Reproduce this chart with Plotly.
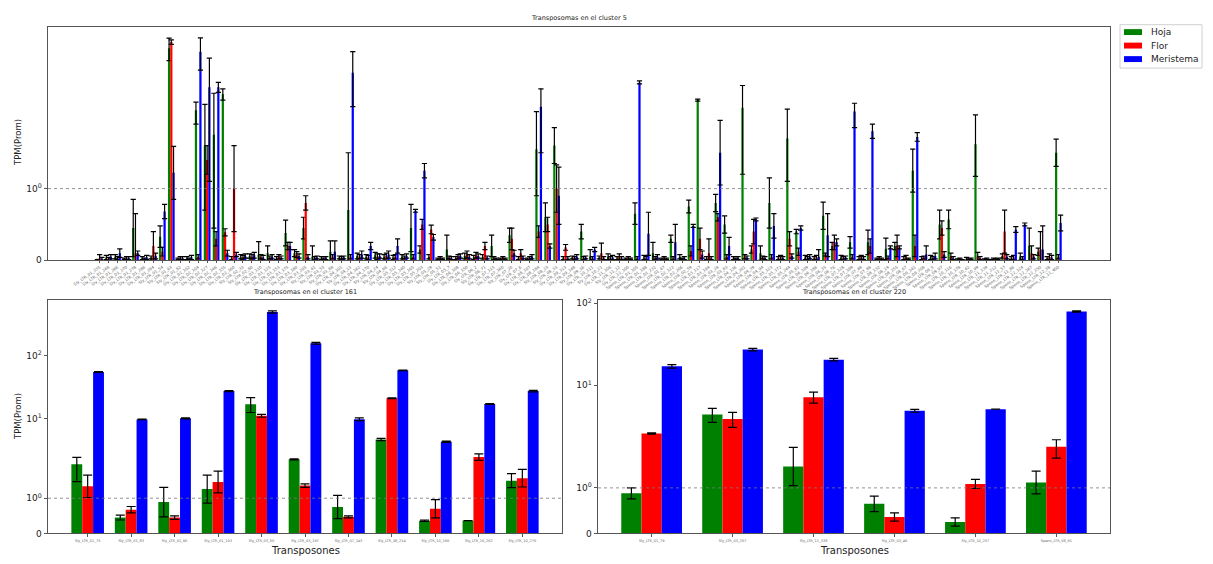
import math
import plotly.graph_objects as go

SERIES = ["Hoja", "Flor", "Meristema"]
COLORS = ["green", "red", "blue"]

# ---------------- cluster 5 ----------------
c5_labels = [
    "Sly_LTR_01_235","Sly_LTR_01_248","Sly_LTR_01_266","Sly_LTR_01_270","Sly_LTR_01_278","Sly_LTR_01_286","Sly_LTR_01_294","Sly_LTR_01_54","Sly_LTR_01_63","Sly_LTR_01_82",
    "Sly_LTR_02_102","Sly_LTR_02_104","Sly_LTR_02_127","Sly_LTR_02_146","Sly_LTR_02_155","Sly_LTR_02_160","Sly_LTR_02_33","Sly_LTR_02_80","Sly_LTR_03_110","Sly_LTR_03_125",
    "Sly_LTR_03_153","Sly_LTR_03_175","Sly_LTR_03_180","Sly_LTR_03_205","Sly_LTR_03_41","Sly_LTR_03_55","Sly_LTR_03_88","Sly_LTR_04_101","Sly_LTR_04_13","Sly_LTR_04_162",
    "Sly_LTR_04_170","Sly_LTR_04_24","Sly_LTR_04_66","Sly_LTR_05_112","Sly_LTR_05_140","Sly_LTR_05_165","Sly_LTR_05_203","Sly_LTR_05_29","Sly_LTR_05_51","Sly_LTR_05_7",
    "Sly_LTR_06_108","Sly_LTR_06_150","Sly_LTR_06_2","Sly_LTR_06_71","Sly_LTR_07_115","Sly_LTR_07_160","Sly_LTR_07_20","Sly_LTR_07_6","Sly_LTR_08_107","Sly_LTR_08_184",
    "Sly_LTR_08_25","Sly_LTR_08_33","Sly_LTR_09_113","Sly_LTR_09_148","Sly_LTR_09_16","Sly_LTR_10_111","Sly_LTR_10_21","Sly_LTR_11_106","Sly_LTR_11_12","Sly_LTR_12_100",
    "Spenn_LTR_01_105","Spenn_LTR_01_188","Spenn_LTR_01_231","Spenn_LTR_01_47","Spenn_LTR_02_122","Spenn_LTR_02_206","Spenn_LTR_02_59","Spenn_LTR_03_117","Spenn_LTR_03_194","Spenn_LTR_03_28",
    "Spenn_LTR_03_83","Spenn_LTR_04_136","Spenn_LTR_04_201","Spenn_LTR_04_39","Spenn_LTR_04_94","Spenn_LTR_05_123","Spenn_LTR_05_172","Spenn_LTR_05_244","Spenn_LTR_05_61","Spenn_LTR_06_109",
    "Spenn_LTR_06_186","Spenn_LTR_06_35","Spenn_LTR_06_76","Spenn_LTR_07_128","Spenn_LTR_07_199","Spenn_LTR_07_48","Spenn_LTR_07_88","Spenn_LTR_08_132","Spenn_LTR_08_19","Spenn_LTR_08_255",
    "Spenn_LTR_08_67","Spenn_LTR_09_141","Spenn_LTR_09_208","Spenn_LTR_09_5","Spenn_LTR_09_97","Spenn_LTR_10_116","Spenn_LTR_10_178","Spenn_LTR_10_42","Spenn_LTR_10_99","Spenn_LTR_11_139",
    "Spenn_LTR_11_212","Spenn_LTR_11_57","Spenn_LTR_11_86","Spenn_LTR_12_124","Spenn_LTR_12_167","Spenn_LTR_12_250","Spenn_LTR_12_38","Spenn_LTR_12_400",
]
c5_hoja = [
    0.01,0.04,0.05,0.02,0.45,0.03,0.04,0.33,6.80,0.02,
    0.03,2.25,1.60,1.75,3.00,0.03,0.05,0.06,0.08,0.10,
    0.03,0.38,0.10,0.45,0.05,0.03,0.12,0.04,0.70,0.06,
    0.05,0.07,0.05,0.04,0.05,0.45,0.15,0.05,0.02,0.15,
    0.03,0.06,0.04,0.05,0.20,0.02,0.35,0.03,0.02,1.55,
    0.60,1.60,0.03,0.04,0.40,0.05,0.04,0.05,0.03,0.02,
    0.65,0.04,0.10,0.02,0.30,0.05,0.75,2.70,0.03,0.80,
    0.50,0.03,2.35,0.15,0.10,0.80,0.03,1.70,0.40,0.04,
    0.03,0.62,0.20,0.04,0.25,0.03,0.25,0.02,0.16,0.20,
    0.03,1.25,0.03,0.04,0.50,0.57,0.01,0.02,1.62,0.01,
    0.02,0.06,0.03,0.05,0.20,0.12,0.03,1.50,
]
c5_hoja_err = [
    0.00,0.03,0.03,0.01,0.40,0.02,0.02,0.15,1.35,0.01,
    0.02,0.35,0.90,1.30,0.30,0.02,0.03,0.03,0.18,0.10,
    0.02,0.18,0.05,0.15,0.15,0.02,0.15,0.02,0.80,0.04,
    0.03,0.04,0.03,0.03,0.03,0.33,0.05,0.03,0.01,0.20,
    0.02,0.04,0.03,0.03,0.15,0.01,0.10,0.02,0.01,0.65,
    0.20,0.25,0.02,0.02,0.10,0.10,0.02,0.04,0.02,0.01,
    0.15,0.03,0.15,0.01,0.05,0.03,0.09,0.05,0.02,0.12,
    0.12,0.02,1.15,0.05,0.10,0.35,0.02,0.60,0.03,0.03,
    0.02,0.19,0.05,0.03,0.08,0.02,0.17,0.01,0.15,0.05,
    0.02,0.30,0.02,0.03,0.20,0.13,0.01,0.02,0.45,0.01,
    0.01,0.03,0.02,0.05,0.25,0.05,0.02,0.19,
]
c5_flor = [
    0.03,0.02,0.03,0.03,0.10,0.02,0.20,0.12,7.60,0.03,
    0.02,0.05,1.40,0.30,0.39,1.00,0.04,0.05,0.05,0.04,
    0.05,0.20,0.08,0.80,0.03,0.02,0.05,0.03,0.05,0.05,
    0.04,0.05,0.06,0.05,0.04,0.05,0.50,0.43,0.03,0.04,
    0.05,0.08,0.07,0.20,0.03,0.03,0.30,0.10,0.03,0.40,
    0.50,1.00,0.18,0.03,0.03,0.03,0.10,0.03,0.05,0.03,
    0.03,0.03,0.03,0.03,0.03,0.02,0.13,0.30,0.10,0.60,
    0.05,0.02,0.05,0.40,0.04,0.05,0.04,0.30,0.12,0.03,
    0.04,0.08,0.25,0.03,0.05,0.04,0.20,0.03,0.04,0.20,
    0.04,0.20,0.04,0.03,0.45,0.05,0.02,0.01,0.05,0.02,
    0.01,0.40,0.04,0.03,0.10,0.15,0.05,0.05,
]
c5_flor_err = [
    0.05,0.02,0.02,0.02,0.55,0.01,0.20,0.06,0.30,0.02,
    0.01,0.03,0.20,0.10,0.05,0.60,0.03,0.03,0.03,0.02,
    0.03,0.05,0.04,0.10,0.02,0.01,0.03,0.02,0.03,0.03,
    0.03,0.04,0.04,0.03,0.02,0.03,0.07,0.06,0.02,0.02,
    0.03,0.05,0.04,0.05,0.02,0.02,0.15,0.05,0.02,0.08,
    0.10,0.33,0.04,0.02,0.02,0.02,0.14,0.02,0.04,0.02,
    0.02,0.02,0.02,0.02,0.02,0.01,0.07,0.15,0.20,0.05,
    0.03,0.01,0.03,0.17,0.02,0.03,0.03,0.10,0.05,0.02,
    0.03,0.02,0.10,0.02,0.03,0.03,0.10,0.02,0.02,0.15,
    0.03,0.15,0.02,0.02,0.10,0.05,0.01,0.01,0.06,0.01,
    0.01,0.30,0.03,0.02,0.10,0.25,0.04,0.03,
]
c5_meri = [
    0.02,0.05,0.10,0.03,0.10,0.04,0.06,0.68,1.22,0.03,
    0.04,6.40,3.40,3.40,0.10,0.08,0.06,0.07,0.04,0.05,
    0.04,0.20,0.06,0.05,0.04,0.03,0.12,0.04,4.40,0.08,
    0.20,0.06,0.08,0.20,0.06,0.69,1.25,0.32,0.02,0.03,
    0.06,0.05,0.06,0.04,0.02,0.02,0.10,0.04,0.05,2.40,
    0.20,0.90,0.03,0.05,0.04,0.15,0.03,0.04,0.03,0.02,
    3.70,0.37,0.05,0.02,0.25,0.03,0.48,0.08,0.03,1.50,
    0.20,0.03,0.04,0.57,0.03,0.48,0.03,0.06,0.45,0.05,
    0.05,0.35,0.25,0.04,2.20,0.03,1.80,0.02,0.18,0.18,
    0.02,1.72,0.08,0.06,0.08,0.03,0.01,0.02,0.03,0.01,
    0.02,0.05,0.43,0.50,0.05,0.15,0.04,0.52,
]
c5_meri_err = [
    0.02,0.03,0.06,0.02,0.03,0.03,0.04,0.10,0.37,0.02,
    0.03,1.80,2.30,0.30,0.04,0.03,0.03,0.04,0.03,0.03,
    0.02,0.05,0.03,0.03,0.02,0.02,0.15,0.02,2.00,0.05,
    0.05,0.03,0.05,0.10,0.03,0.02,0.10,0.04,0.01,0.02,
    0.03,0.03,0.03,0.02,0.01,0.01,0.04,0.02,0.03,0.90,
    0.03,0.40,0.02,0.03,0.02,0.03,0.02,0.03,0.02,0.01,
    0.10,0.30,0.03,0.01,0.25,0.02,0.02,0.05,0.02,0.45,
    0.12,0.02,0.02,0.02,0.02,0.17,0.02,0.03,0.03,0.03,
    0.10,0.30,0.05,0.02,0.35,0.02,0.10,0.01,0.02,0.02,
    0.01,0.06,0.12,0.04,0.04,0.02,0.00,0.01,0.02,0.00,
    0.01,0.03,0.04,0.02,0.03,0.33,0.03,0.11,
]

# ---------------- cluster 161 ----------------
c161_labels = ["Sly_LTR_01_75","Sly_LTR_01_83","Sly_LTR_01_90","Sly_LTR_01_103","Sly_LTR_03_50",
               "Sly_LTR_03_197","Sly_LTR_07_143","Sly_LTR_08_214","Sly_LTR_10_166","Sly_LTR_10_262","Sly_LTR_10_276"]
c161_hoja = [1.97, 0.45, 0.89, 1.26, 17.1, 2.29, 0.75, 4.72, 0.36, 0.36, 1.50]
c161_hoja_err = [0.50, 0.07, 0.42, 0.40, 4.5, 0.05, 0.33, 0.20, 0.02, 0.0, 0.20]
c161_flor = [1.34, 0.675, 0.45, 1.46, 11.2, 1.36, 0.47, 21.1, 0.70, 2.50, 1.57]
c161_flor_err = [0.32, 0.09, 0.05, 0.31, 0.6, 0.05, 0.03, 0.3, 0.26, 0.30, 0.25]
c161_meri = [55.2, 9.8, 10.2, 27.5, 490.0, 157.0, 9.9, 58.6, 4.35, 17.2, 27.5]
c161_meri_err = [0.8, 0.1, 0.2, 0.5, 20.0, 5.0, 0.5, 0.5, 0.1, 0.2, 0.8]

# ---------------- cluster 220 ----------------
c220_labels = ["Sly_LTR_01_79","Sly_LTR_03_207","Sly_LTR_11_338","Sly_LTR_03_46","Sly_LTR_10_257","Spenn_LTR_08_91"]
c220_hoja = [0.88, 4.37, 1.47, 0.65, 0.25, 1.12]
c220_hoja_err = [0.12, 0.85, 0.42, 0.17, 0.09, 0.25]
c220_flor = [2.57, 3.86, 7.13, 0.36, 1.087, 1.906]
c220_flor_err = [0.05, 0.8, 1.1, 0.09, 0.1, 0.25]
c220_meri = [17.0, 27.2, 20.5, 4.87, 5.1, 79.4]
c220_meri_err = [0.8, 1.0, 0.7, 0.2, 0.0, 1.5]

# symlog transform (matplotlib default: base 10, linthresh 2, linscale 1)
LT = 2.0
LA = 1.0 / (1.0 - 1.0 / 10.0)


def slog(v):
    s = 1.0 if v >= 0 else -1.0
    a = abs(v)
    if a <= LT:
        return s * a * LA
    return s * LT * (LA + math.log10(a / LT))


FONT = "DejaVu Sans"
W, H = 1213, 564

fig = go.Figure()

panels = [
    dict(labels=c5_labels, vals=[c5_hoja, c5_flor, c5_meri], errs=[c5_hoja_err, c5_flor_err, c5_meri_err],
         xa="x", ya="y", cap=2.6),
    dict(labels=c161_labels, vals=[c161_hoja, c161_flor, c161_meri], errs=[c161_hoja_err, c161_flor_err, c161_meri_err],
         xa="x2", ya="y2", cap=4.5),
    dict(labels=c220_labels, vals=[c220_hoja, c220_flor, c220_meri], errs=[c220_hoja_err, c220_flor_err, c220_meri_err],
         xa="x3", ya="y3", cap=4.5),
]

ymaxes = []
for p in panels:
    top = 0
    for name, col, vals, errs in zip(SERIES, COLORS, p["vals"], p["errs"]):
        ty = [slog(v) for v in vals]
        up = [slog(v + e) - slog(v) for v, e in zip(vals, errs)]
        dn = [slog(v) - slog(v - e) for v, e in zip(vals, errs)]
        top = max(top, max(slog(v + e) for v, e in zip(vals, errs)))
        fig.add_trace(go.Bar(
            x=p["labels"], y=ty, name=name, marker=dict(color=col, line=dict(width=0)),
            error_y=dict(type="data", symmetric=False, array=up, arrayminus=dn,
                         color="black", thickness=1.2, width=p["cap"]),
            xaxis=p["xa"], yaxis=p["ya"], showlegend=False,
            customdata=vals, hovertemplate="%{x}<br>%{customdata}<extra>" + name + "</extra>",
        ))
    ymaxes.append(top * 1.05)


def px_x(v):
    return v / W


def px_y(v):
    return 1 - v / H


axis_line = dict(showline=True, linecolor="#555", linewidth=1, mirror=True, showgrid=False, zeroline=False)

n5, n161, n220 = len(c5_labels), len(c161_labels), len(c220_labels)


def xr(n):
    span = n - 0.25
    m = 0.05 * span
    return [-0.375 - m, n - 1 + 0.375 + m]


tv3 = [slog(0), slog(1), slog(10), slog(100)]
tt3 = ["0", "10<sup>0</sup>", "10<sup>1</sup>", "10<sup>2</sup>"]

fig.update_layout(
    width=W, height=H, autosize=False,
    margin=dict(l=0, r=0, t=0, b=0),
    paper_bgcolor="white", plot_bgcolor="white",
    font=dict(family=FONT, color="#222"),
    barmode="group", bargap=0.25, bargroupgap=0,
    showlegend=False,
    xaxis=dict(domain=[px_x(48), px_x(1110)], anchor="y", type="category", range=xr(n5), dtick=1,
               tickangle=-35, tickfont=dict(size=4, color="#666"), ticks="outside", ticklen=2,
               tickcolor="#555", **axis_line),
    yaxis=dict(domain=[px_y(261), px_y(24)], anchor="x", range=[0, ymaxes[0]],
               tickvals=[slog(0), slog(1)], ticktext=["0", "10<sup>0</sup>"],
               tickfont=dict(size=9), ticks="outside", ticklen=3.5, tickcolor="#555", **axis_line),
    xaxis2=dict(domain=[px_x(48), px_x(562)], anchor="y2", type="category", range=xr(n161), dtick=1,
                tickangle=0, tickfont=dict(size=3.5, color="#666"), ticks="outside", ticklen=3,
                tickcolor="#555", **axis_line),
    yaxis2=dict(domain=[px_y(538), px_y(301)], anchor="x2", range=[0, ymaxes[1]],
                tickvals=tv3, ticktext=tt3, tickfont=dict(size=9), ticks="outside", ticklen=3.5,
                tickcolor="#555", **axis_line),
    xaxis3=dict(domain=[px_x(598), px_x(1110)], anchor="y3", type="category", range=xr(n220), dtick=1,
                tickangle=0, tickfont=dict(size=3.5, color="#666"), ticks="outside", ticklen=3,
                tickcolor="#555", **axis_line),
    yaxis3=dict(domain=[px_y(538), px_y(301)], anchor="x3", range=[0, ymaxes[2]],
                tickvals=tv3, ticktext=tt3, tickfont=dict(size=9), ticks="outside", ticklen=3.5,
                tickcolor="#555", **axis_line),
)

# reference lines at y = 1
for xa, ya in [("x", "y"), ("x2", "y2"), ("x3", "y3")]:
    fig.add_shape(type="line", xref=xa + " domain", yref=ya, x0=0, x1=1, y0=slog(1), y1=slog(1),
                  line=dict(color="#777", width=0.8, dash="dot"), layer="above")

# legend box (matplotlib style: compact rows)
fig.add_shape(type="rect", xref="paper", yref="paper", x0=px_x(1120), x1=px_x(1202), y0=px_y(66), y1=px_y(22),
              line=dict(color="#d0d0d0", width=1), fillcolor="white", layer="above")
for i, (name, col) in enumerate(zip(SERIES, COLORS)):
    yc = 29.5 + 13.7 * i
    fig.add_shape(type="rect", xref="paper", yref="paper", x0=px_x(1124), x1=px_x(1142),
                  y0=px_y(yc + 3), y1=px_y(yc - 3), line=dict(width=0), fillcolor=col, layer="above")
    fig.add_annotation(text=name, x=px_x(1149), y=px_y(yc), xref="paper", yref="paper", showarrow=False,
                       xanchor="left", yanchor="middle", font=dict(size=9, family=FONT, color="#222"))

ann = [
    ("Transposomas en el cluster 5", 579, 15, 6.5, 0),
    ("Transposomas en el cluster 161", 305, 293, 6.5, 0),
    ("Transposomas en el cluster 220", 854, 293, 6.5, 0),
    ("Transposones", 305, 555, 10, 0),
    ("Transposones", 854, 555, 10, 0),
    ("TPM(Prom)", 18, 142, 8.5, -90),
    ("TPM(Prom)", 18, 420, 8.5, -90),
]
for text, x, y, size, ang in ann:
    fig.add_annotation(text=text, x=px_x(x), y=px_y(y), xref="paper", yref="paper",
                       showarrow=False, xanchor="center", yanchor="middle", textangle=ang,
                       font=dict(size=size, family=FONT, color="#222"))

fig.write_html("out.html", config={"displayModeBar": False},
               post_script="document.body.style.margin='0px';document.body.style.overflow='hidden';")
